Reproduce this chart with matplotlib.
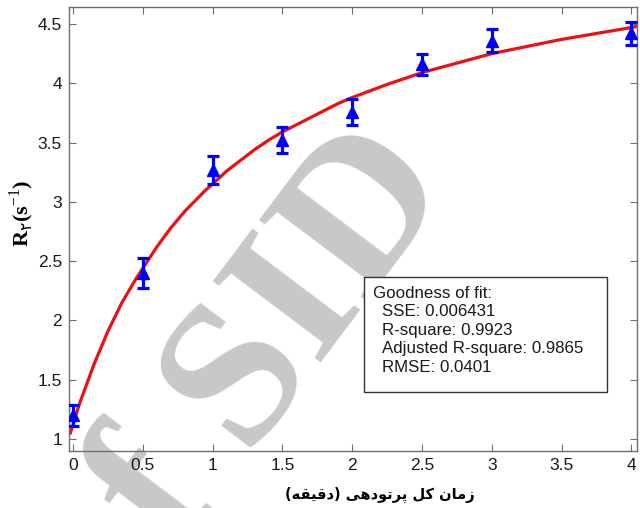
import matplotlib
matplotlib.use("Agg")
import matplotlib.pyplot as plt
from matplotlib.patches import Rectangle

# ---------------- data ----------------
time_min = [0, 0.5, 1, 1.5, 2, 2.5, 3, 4]
r2_values = [1.20, 2.40, 3.27, 3.52, 3.76, 4.16, 4.36, 4.42]
r2_errors = [0.09, 0.13, 0.12, 0.11, 0.11, 0.09, 0.10, 0.10]

fit_x = [-0.02, 0, 0.025, 0.05, 0.075, 0.1, 0.125, 0.15, 0.175, 0.2, 0.25, 0.3,
         0.35, 0.4, 0.45, 0.5, 0.55, 0.6, 0.65, 0.7, 0.75, 0.8, 0.85, 0.9,
         0.95, 1.0, 1.1, 1.2, 1.3, 1.4, 1.5, 1.6, 1.7, 1.8, 1.9, 2.0, 2.25,
         2.5, 2.75, 3.0, 3.25, 3.5, 3.75, 4.0, 4.04]
fit_y = [1.05, 1.12, 1.22, 1.31, 1.39, 1.47, 1.55, 1.63, 1.70, 1.77, 1.91, 2.03,
         2.15, 2.25, 2.35, 2.44, 2.53, 2.62, 2.70, 2.78, 2.85, 2.92, 2.98, 3.04,
         3.10, 3.15, 3.26, 3.35, 3.44, 3.52, 3.59, 3.65, 3.71, 3.77, 3.83, 3.88,
         3.99, 4.09, 4.17, 4.25, 4.31, 4.37, 4.42, 4.47, 4.48]

x_ticks = [0, 0.5, 1, 1.5, 2, 2.5, 3, 3.5, 4]
x_tick_labels = ["0", "0.5", "1", "1.5", "2", "2.5", "3", "3.5", "4"]
y_ticks = [1, 1.5, 2, 2.5, 3, 3.5, 4, 4.5]
y_tick_labels = ["1", "1.5", "2", "2.5", "3", "3.5", "4", "4.5"]

gof_lines = ["Goodness of fit:", "SSE: 0.006431", "R-square: 0.9923",
             "Adjusted R-square: 0.9865", "RMSE: 0.0401"]

# زمان کل پرتودهی (دقیقه)
x_label_text = ("\u0632\u0645\u0627\u0646 \u06A9\u0644 "
                "\u067E\u0631\u062A\u0648\u062F\u0647\u06CC "
                "(\u062F\u0642\u06CC\u0642\u0647)")
y_label_text = ("$\\mathbf{R}_{\\mathsf{\u06F2}}"
                "\\mathbf{(s}^{-1}\\mathbf{)}$")
watermark_text = "of SID"

# --------------- simple Persian shaping (presentation forms, visual order) ---------
FORMS = {
    "\u0627": ("\uFE8D", "\uFE8E", None, None),
    "\u062F": ("\uFEA9", "\uFEAA", None, None),
    "\u0631": ("\uFEAD", "\uFEAE", None, None),
    "\u0632": ("\uFEAF", "\uFEB0", None, None),
    "\u0648": ("\uFEED", "\uFEEE", None, None),
    "\u062A": ("\uFE95", "\uFE96", "\uFE97", "\uFE98"),
    "\u0642": ("\uFED5", "\uFED6", "\uFED7", "\uFED8"),
    "\u0644": ("\uFEDD", "\uFEDE", "\uFEDF", "\uFEE0"),
    "\u0645": ("\uFEE1", "\uFEE2", "\uFEE3", "\uFEE4"),
    "\u0646": ("\uFEE5", "\uFEE6", "\uFEE7", "\uFEE8"),
    "\u0647": ("\uFEE9", "\uFEEA", "\uFEEB", "\uFEEC"),
    "\u067E": ("\uFB56", "\uFB57", "\uFB58", "\uFB59"),
    "\u06A9": ("\uFB8E", "\uFB8F", "\uFB90", "\uFB91"),
    "\u06CC": ("\uFBFC", "\uFBFD", "\uFBFE", "\uFBFF"),
}


def shape_rtl(text):
    out = []
    n = len(text)
    for i, ch in enumerate(text):
        if ch not in FORMS:
            out.append(ch)
            continue
        iso, fin, ini, med = FORMS[ch]
        prev = text[i - 1] if i > 0 else None
        nxt = text[i + 1] if i < n - 1 else None
        prev_j = prev in FORMS and FORMS[prev][2] is not None
        next_j = nxt in FORMS
        dual = ini is not None
        if prev_j and next_j and dual:
            out.append(med)
        elif prev_j:
            out.append(fin)
        elif next_j and dual:
            out.append(ini)
        else:
            out.append(iso)
    vis = "".join(reversed(out))
    return vis.translate(str.maketrans("()", ")("))


plt.rcParams["mathtext.fontset"] = "custom"
plt.rcParams["mathtext.rm"] = "Liberation Serif"
plt.rcParams["mathtext.bf"] = "Liberation Serif:bold"
plt.rcParams["mathtext.sf"] = "DejaVu Sans"

fig = plt.figure(figsize=(6.4, 5.08), dpi=100, facecolor="white")
ax = fig.add_axes([69 / 640, 57 / 508, 568 / 640, 444 / 508])
ax.set_facecolor("none")

# watermark (behind plot content)
fig.text(455 / 640, 1 - 185 / 508, watermark_text, ha="right", va="baseline",
         rotation=53, rotation_mode="anchor", fontsize=148,
         family="Liberation Serif", weight="bold", color="#c8c8c8", zorder=-1)

ax.plot(fit_x, fit_y, color="#ee1010", lw=2.3, zorder=2)
ax.errorbar(time_min, r2_values, yerr=r2_errors, fmt="^", color="#0000ff",
            ms=9, ecolor="#0000ff", elinewidth=2.3, capsize=4.5, capthick=2.3,
            zorder=3)

ax.set_xlim(-0.029, 4.04)
ax.set_ylim(0.899, 4.643)
ax.set_xticks(x_ticks)
ax.set_xticklabels(x_tick_labels)
ax.set_yticks(y_ticks)
ax.set_yticklabels(y_tick_labels)
ax.tick_params(direction="in", length=5, width=0.8, color="#6e6e6e",
               top=True, right=True, labelsize=12.5, labelcolor="#1a1a1a", pad=5)
for lab in ax.get_xticklabels() + ax.get_yticklabels():
    lab.set_family("Liberation Sans")
for sp in ax.spines.values():
    sp.set_color("#6e6e6e")
    sp.set_linewidth(1.0)

ax.set_xlabel(shape_rtl(x_label_text), family=["DejaVu Sans"], weight="bold",
              fontsize=10.5, color="black")
ax.xaxis.set_label_coords((380 - 69) / 568, (451 - 499) / 444)
ax.xaxis.label.set_va("baseline")
ax.set_ylabel(y_label_text, fontsize=16, color="black")
ax.yaxis.set_label_coords((36 - 69) / 568, (451 - 213) / 444)

# goodness-of-fit box
box = Rectangle((364 / 640, 1 - 392 / 508), 243 / 640, 115 / 508,
                transform=fig.transFigure, facecolor="white",
                edgecolor="#333333", lw=1.0, zorder=5)
fig.patches.append(box)
ys = [293, 312, 330, 349, 367]
for i, (line, ypx) in enumerate(zip(gof_lines, ys)):
    xpx = 373 if i == 0 else 382
    fig.text(xpx / 640, 1 - ypx / 508, line, ha="left", va="center",
             fontsize=12.2, family="Liberation Sans", color="#1a1a1a", zorder=6)

fig.savefig("out.png", dpi=100, facecolor="white")
